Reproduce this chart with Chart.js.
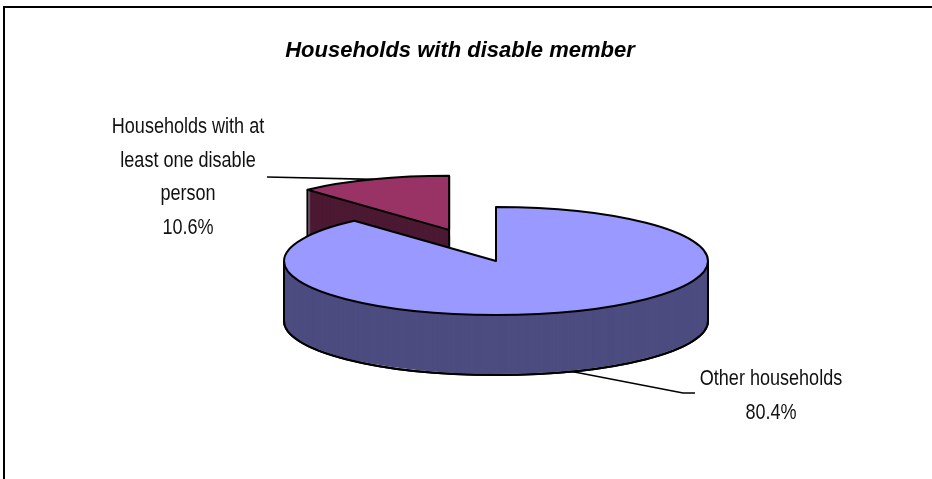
<!DOCTYPE html>
<html>
<head>
<meta charset="utf-8">
<script src="https://cdn.jsdelivr.net/npm/chart.js@4/dist/chart.umd.min.js"></script>
<style>
  html, body { margin: 0; padding: 0; background: #fff; overflow: hidden; }
  #caja { width: 932px; height: 479px; }
  canvas { display: block; }
</style>
</head>
<body>
<div id="caja"><canvas id="grafico" width="932" height="479"></canvas></div>
<script>
// Datos del gráfico
var categorias = ['Households with at least one disable person', 'Other households'];
var lineasEtiqueta = [['Households with at', 'least one disable', 'person'], ['Other households']];
var valores = [10.6, 80.4];
var coloresCara = ['#993366', '#9999FF'];
var coloresLado = ['#4C1933', '#4C4C80'];
var separacion = [131, 0]; // porción separada del centro
var titulo = 'Households with disable member';

// Aspecto 3D
var RADIO = 212;
var ACHATADO = 54 / RADIO;   // relación entre eje vertical y horizontal
var PROFUNDIDAD = 60;        // grosor del pastel en px
var GROSOR = 2;

// Colocación de las etiquetas (codo de la línea guía, centro del texto, primera línea base)
var disposicion = [
  { ancla: 'arriba', codo: [[267, 177]], x: 188, y: 133 },
  { ancla: 'abajo', codo: [[683, 393], [695, 393]], x: 771, y: 385 }
];

var total = valores.reduce(function (a, b) { return a + b; }, 0);
var rotacion = -valores[0] / total * 360;

var fuenteEtiqueta = '22px "Liberation Sans Narrow", "Arial Narrow", monospace';
var escalaTexto = 1;

function hayEstrecha(ctx) {
  ctx.font = '22px monospace';
  var a = ctx.measureText('Other households').width;
  ctx.font = fuenteEtiqueta;
  var b = ctx.measureText('Other households').width;
  return a !== b;
}

function desplazamiento(arc, i) {
  var medio = (arc.startAngle + arc.endAngle) / 2;
  return [separacion[i] * Math.cos(medio), separacion[i] * Math.sin(medio) * ACHATADO];
}

// Aplica la proyección achatada alrededor del centro vertical
function proyectar(ctx, cy, dx, dy, fn) {
  ctx.save();
  ctx.translate(dx, cy + dy);
  ctx.scale(1, ACHATADO);
  ctx.translate(0, -cy);
  fn();
  ctx.restore();
}

function pintarArco(ctx, arc, color) {
  var orig = arc.options;
  arc.options = Object.assign({}, orig, { backgroundColor: color, borderWidth: 0, offset: 0 });
  arc.draw(ctx);
  arc.options = orig;
}

function caminoArco(ctx, arc) {
  ctx.moveTo(arc.x, arc.y);
  ctx.arc(arc.x, arc.y, arc.outerRadius, arc.startAngle, arc.endAngle);
  ctx.closePath();
}

function enRango(a, ini, fin) {
  var t = a;
  while (t < ini) t += Math.PI * 2;
  while (t >= ini + Math.PI * 2) t -= Math.PI * 2;
  return t <= fin;
}

var pastel3D = {
  id: 'pastel3D',
  beforeDraw: function (chart) {
    var ctx = chart.ctx;
    ctx.save();
    ctx.fillStyle = '#fff';
    ctx.fillRect(0, 0, chart.width, chart.height);
    // marco: sólo se ven los lados izquierdo y superior
    ctx.strokeStyle = '#000';
    ctx.lineWidth = 2;
    ctx.beginPath();
    ctx.moveTo(4, chart.height + 5);
    ctx.lineTo(4, 7);
    ctx.lineTo(chart.width + 5, 7);
    ctx.stroke();
    ctx.restore();
  },
  beforeDatasetsDraw: function (chart) {
    var ctx = chart.ctx;
    var arcos = chart.getDatasetMeta(0).data;
    ctx.save();
    ctx.strokeStyle = '#000';
    ctx.lineWidth = GROSOR;
    ctx.lineJoin = 'round';
    arcos.forEach(function (arc, i) {
      var cy = arc.y;
      var d = desplazamiento(arc, i);

      // contorno de la base
      ctx.beginPath();
      proyectar(ctx, cy, d[0], d[1] + PROFUNDIDAD, function () { caminoArco(ctx, arc); });
      ctx.stroke();

      // paredes laterales
      for (var p = PROFUNDIDAD - 1; p >= 1; p--) {
        proyectar(ctx, cy, d[0], d[1] + p, function () { pintarArco(ctx, arc, coloresLado[i]); });
      }

      // borde inferior delantero (parte visible del arco de la base)
      var ini = Math.max(arc.startAngle, 0), fin = Math.min(arc.endAngle, Math.PI);
      if (fin > ini) {
        ctx.beginPath();
        proyectar(ctx, cy, d[0], d[1] + PROFUNDIDAD, function () {
          ctx.arc(arc.x, arc.y, arc.outerRadius, ini, fin);
        });
        ctx.stroke();
      }

      // aristas verticales
      var angulos = [arc.startAngle, arc.endAngle];
      [0, Math.PI].forEach(function (a) {
        if (enRango(a, arc.startAngle, arc.endAngle)) angulos.push(a);
      });
      ctx.beginPath();
      angulos.forEach(function (a) {
        var x = arc.x + d[0] + arc.outerRadius * Math.cos(a);
        var y = cy + d[1] + arc.outerRadius * Math.sin(a) * ACHATADO;
        ctx.moveTo(x, y);
        ctx.lineTo(x, y + PROFUNDIDAD);
      });
      if (!enRango(Math.PI / 2, arc.startAngle, arc.endAngle)) {
        ctx.moveTo(arc.x + d[0], cy + d[1]);
        ctx.lineTo(arc.x + d[0], cy + d[1] + PROFUNDIDAD);
      }
      ctx.stroke();

      // cara superior
      proyectar(ctx, cy, d[0], d[1], function () { pintarArco(ctx, arc, coloresCara[i]); });
      ctx.beginPath();
      proyectar(ctx, cy, d[0], d[1], function () { caminoArco(ctx, arc); });
      ctx.stroke();
    });
    ctx.restore();
    return false;
  },
  afterDraw: function (chart) {
    var ctx = chart.ctx;
    var arcos = chart.getDatasetMeta(0).data;
    ctx.save();

    // título
    ctx.fillStyle = '#000';
    ctx.textAlign = 'center';
    ctx.textBaseline = 'alphabetic';
    ctx.font = 'italic bold 22px "Liberation Sans", Arial, sans-serif';
    ctx.fillText(titulo, 460, 57);

    // etiquetas con línea guía
    if (!hayEstrecha(ctx)) {
      fuenteEtiqueta = '22px "Liberation Sans", Arial, sans-serif';
      escalaTexto = 0.82;
    }
    arcos.forEach(function (arc, i) {
      var d = desplazamiento(arc, i);
      var medio = (arc.startAngle + arc.endAngle) / 2;
      var ax = arc.x + d[0] + arc.outerRadius * Math.cos(medio);
      var ay = arc.y + d[1] + arc.outerRadius * Math.sin(medio) * ACHATADO;
      if (disposicion[i].ancla === 'abajo') ay += PROFUNDIDAD;
      ctx.strokeStyle = '#000';
      ctx.lineWidth = 1.6;
      ctx.beginPath();
      ctx.moveTo(ax, ay);
      disposicion[i].codo.forEach(function (pt) { ctx.lineTo(pt[0], pt[1]); });
      ctx.stroke();

      var lineas = lineasEtiqueta[i].concat([valores[i].toFixed(1) + '%']);
      ctx.font = fuenteEtiqueta;
      ctx.fillStyle = '#111';
      lineas.forEach(function (txt, k) {
        ctx.save();
        ctx.translate(disposicion[i].x, disposicion[i].y + k * 33.5);
        ctx.scale(escalaTexto, 1);
        ctx.fillText(txt, 0, 0);
        ctx.restore();
      });
    });
    ctx.restore();
  }
};

var grafico = new Chart(document.getElementById('grafico').getContext('2d'), {
  type: 'pie',
  data: {
    labels: categorias,
    datasets: [{
      data: valores,
      backgroundColor: coloresCara,
      borderColor: '#000',
      borderWidth: 0
    }]
  },
  options: {
    responsive: false,
    animation: false,
    devicePixelRatio: 1,
    radius: RADIO,
    rotation: rotacion,
    layout: { padding: { left: 60, right: 0, top: 43, bottom: 0 } },
    plugins: {
      legend: { display: false },
      title: { display: false },
      tooltip: { enabled: false }
    }
  },
  plugins: [pastel3D]
});
</script>
</body>
</html>
